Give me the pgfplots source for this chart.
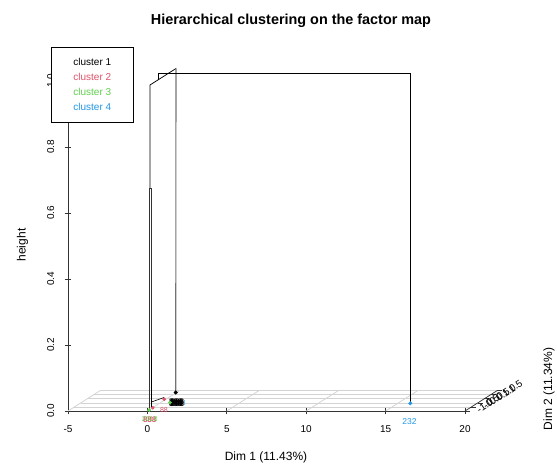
\documentclass[border=0pt]{standalone}
\usepackage{fontspec}
\setmainfont{Liberation Sans}
\usepackage{pgfplots}
\pgfplotsset{compat=1.18}
\definecolor{c2}{HTML}{DF536B}
\definecolor{c3}{HTML}{61D04F}
\definecolor{c4}{HTML}{2297E6}
\definecolor{gridc}{HTML}{D3D3D3}
\begin{document}
\begin{tikzpicture}
\useasboundingbox (-68pt,-56pt) rectangle (489pt,411pt);
\begin{axis}[
  at={(0pt,0pt)}, anchor=south west,
  scale only axis, width=397pt, height=330pt,
  xmin=-5, xmax=20, ymin=0, ymax=1,
  axis lines=left, axis line style={-, black!80, line width=0.75pt},
  clip=false,
  xtick={-5,0,5,10,15,20}, xticklabels={-5,0,5,10,15,20},
  ytick={0,0.2,0.4,0.6,0.8,1}, yticklabels={0.0,0.2,0.4,0.6,0.8,1.0},
  tick align=center, major tick length=6.5pt,
  tick style={black!80, line width=0.75pt},
  tick label style={font=\fontsize{10}{12}\selectfont},
  xticklabel style={yshift=-8pt},
  yticklabel style={xshift=-7pt, rotate=90, anchor=south},
  legend image code/.code={},
  legend style={at={(rel axis cs:-0.0428,1.104)}, anchor=north west,
    draw=black, line width=0.75pt, fill=white,
    font=\fontsize{10}{12}\selectfont, legend cell align=left,
    inner xsep=22pt, inner ysep=11.35pt, row sep=7.7pt,
    nodes={inner sep=0pt, text height=7.3pt, text depth=0pt}},
]
% floor grid
\addplot[gridc, line width=0.75pt, forget plot] coordinates {(-4.597,0.0123) (20.403,0.0123)};
\addplot[gridc, line width=0.75pt, forget plot] coordinates {(-4.194,0.0246) (20.806,0.0246)};
\addplot[gridc, line width=0.75pt, forget plot] coordinates {(-3.791,0.0369) (21.209,0.0369)};
\addplot[gridc, line width=0.75pt, forget plot] coordinates {(-3.388,0.0492) (21.612,0.0492)};
\addplot[gridc, line width=0.75pt, forget plot] coordinates {(-2.985,0.0615) (22.015,0.0615)};
\addplot[gridc, line width=0.75pt, forget plot] coordinates {(-5,0) (-2.985,0.0615)};
\addplot[gridc, line width=0.75pt, forget plot] coordinates {(0,0) (2.015,0.0615)};
\addplot[gridc, line width=0.75pt, forget plot] coordinates {(5,0) (7.015,0.0615)};
\addplot[gridc, line width=0.75pt, forget plot] coordinates {(10,0) (12.015,0.0615)};
\addplot[gridc, line width=0.75pt, forget plot] coordinates {(15,0) (17.015,0.0615)};
% depth axis and its ticks
\addplot[black!80, line width=0.75pt, forget plot] coordinates {(20,0) (22.015,0.0615)};
\addplot[black!80, line width=0.75pt, forget plot] coordinates {(20,0) (20.315,0)};
\addplot[black!80, line width=0.75pt, forget plot] coordinates {(20.403,0.0123) (20.718,0.0123)};
\addplot[black!80, line width=0.75pt, forget plot] coordinates {(20.806,0.0246) (21.121,0.0246)};
\addplot[black!80, line width=0.75pt, forget plot] coordinates {(21.209,0.0369) (21.524,0.0369)};
\addplot[black!80, line width=0.75pt, forget plot] coordinates {(21.612,0.0492) (21.927,0.0492)};
\addplot[black!80, line width=0.75pt, forget plot] coordinates {(22.015,0.0615) (22.33,0.0615)};
% dendrogram
\addplot[black, line width=0.75pt, forget plot] coordinates {(0.164,0.6758) (0.164,0.9879) (1.801,1.0379)};
\addplot[black!55, line width=1.1pt, forget plot] coordinates {(1.801,1.0379) (1.782,0.0561)};
\addplot[black, line width=0.75pt, forget plot] coordinates {(0.668,1.003) (0.668,1.0233) (16.556,1.0233) (16.556,0.0233)};
\addplot[black!80, line width=0.6pt, forget plot] coordinates {(0.120,0.003) (0.120,0.6758) (0.227,0.6758) (0.227,0.018)};
\addplot[black, line width=1pt, forget plot] coordinates {(0.271,0.013) (0.271,0.1848)};
\addplot[black, line width=0.6pt, forget plot] coordinates {(0.258,0.0273) (1.045,0.0409)};
% points
\addplot[only marks, mark=*, mark size=1.8pt, c4, forget plot] coordinates {(16.556,0.0233)};
\addplot[only marks, mark=*, mark size=1.8pt, black, forget plot] coordinates {(1.782,0.0561)};
\addplot[only marks, mark=*, mark size=1.6pt, c3, forget plot] coordinates {(0.120,0.003) (1.423,0.0258)};
\addplot[only marks, mark=*, mark size=1.6pt, c2, forget plot] coordinates {(0.334,0.010) (1.064,0.0355)};
% point labels
\node[c4, font=\fontsize{8.5}{9}\selectfont] at (axis cs:16.50,-0.0335) {232};
\node[black, font=\bfseries\fontsize{8}{8}\selectfont, inner sep=0pt] at (axis cs:1.782,0.027) {888};
\node[black, font=\bfseries\fontsize{8}{8}\selectfont, inner sep=0pt] at (axis cs:1.882,0.027) {888};
\node[black, font=\bfseries\fontsize{8}{8}\selectfont, inner sep=0pt] at (axis cs:1.782,0.021) {888};
\node[black, font=\bfseries\fontsize{8}{8}\selectfont, inner sep=0pt] at (axis cs:1.882,0.021) {888};
\node[black, font=\bfseries\fontsize{8}{8}\selectfont, inner sep=0pt] at (axis cs:1.832,0.024) {888};
\node[c4, font=\fontsize{7}{7}\selectfont, inner sep=0pt] at (axis cs:2.33,0.024) {l};
\node[c2, font=\bfseries\fontsize{8}{8}\selectfont, inner sep=0pt] at (axis cs:0.145,-0.0258) {888};
\node[c3, font=\fontsize{7}{7}\selectfont, inner sep=0pt] at (axis cs:0.145,-0.0258) {2018};
\node[c2, font=\fontsize{7}{7}\selectfont, inner sep=0pt] at (axis cs:1.045,0.004) {88};
% legend
\addlegendimage{empty legend}\addlegendentry{cluster 1}
\addlegendimage{empty legend}\addlegendentry{\textcolor{c2}{cluster 2}}
\addlegendimage{empty legend}\addlegendentry{\textcolor{c3}{cluster 3}}
\addlegendimage{empty legend}\addlegendentry{\textcolor{c4}{cluster 4}}
\end{axis}
% depth axis tick labels
\foreach \k/\t in {0/-1.0,1/-0.5,2/0.0,3/0.5,4/1.0,5/1.5}{
  \node[font=\fontsize{10}{12}\selectfont, rotate=34, anchor=base west, inner sep=0pt]
    at ({411.5pt+6.4pt*\k},{-2.5pt+4.06pt*\k}) {\t};
}
\node[font=\bfseries\fontsize{14.4}{17}\selectfont, anchor=base] at (223pt,387pt) {Hierarchical clustering on the factor map};
\node[font=\fontsize{12}{14}\selectfont, anchor=base] at (198pt,-49pt) {Dim 1 (11.43\%)};
\node[font=\fontsize{12}{14}\selectfont, rotate=90] at (-45.5pt,166pt) {height};
\node[font=\fontsize{12}{14}\selectfont, rotate=90] at (481pt,22pt) {Dim 2 (11.34\%)};
\end{tikzpicture}
\end{document}
